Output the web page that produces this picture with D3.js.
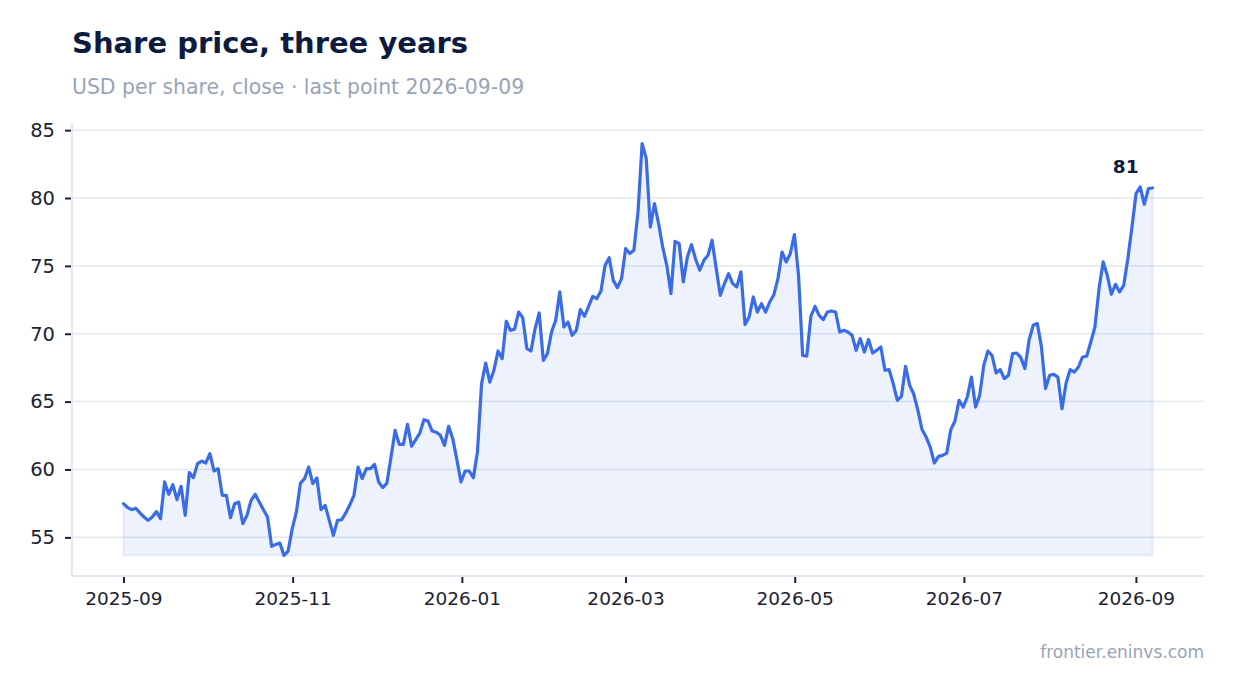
<!DOCTYPE html>
<html>
<head>
<meta charset="utf-8">
<script src="https://cdn.jsdelivr.net/npm/d3@7"></script>
<style>
  html, body { margin: 0; padding: 0; background: #ffffff; }
  svg { display: block; font-family: "DejaVu Sans", sans-serif; }
</style>
</head>
<body>
<svg id="chart" width="1234" height="693"></svg>
<script>
// ---- data ----
const title = "Share price, three years";
const subtitle = "USD per share, close \u00b7 last point 2026-09-09";
const footer = "frontier.eninvs.com";
const startDate = "2025-09-01";
const endDate = "2026-09-07";
const prices = [
  57.48, 57.2, 57.04, 57.14, 56.8, 56.5, 56.25, 56.5, 56.9, 56.38,
  59.08, 58.17, 58.88, 57.78, 58.76, 56.62, 59.77, 59.40, 60.43, 60.62,
  60.48, 61.17, 59.89, 60.06, 58.10, 58.10, 56.45, 57.48, 57.60, 56.01,
  56.62, 57.73, 58.17, 57.60, 57.04, 56.50, 54.34, 54.48, 54.58, 53.67,
  53.99, 55.64, 56.86, 59.00, 59.33, 60.18, 58.96, 59.37, 57.04, 57.36,
  56.25, 55.15, 56.25, 56.30, 56.8, 57.4, 58.1, 60.18, 59.33, 60.06,
  60.06, 60.38, 59.08, 58.66, 59.00, 60.92, 62.88, 61.85, 61.85, 63.33,
  61.71, 62.20, 62.69, 63.67, 63.57, 62.83, 62.74, 62.52, 61.78, 63.18,
  62.27, 60.73, 59.08, 59.89, 59.89, 59.40, 61.29, 66.33, 67.84, 66.44,
  67.31, 68.73, 68.17, 70.92, 70.25, 70.33, 71.60, 71.19, 68.91, 68.73,
  70.38, 71.53, 68.04, 68.54, 70.13, 70.99, 73.08, 70.50, 70.87, 69.89,
  70.25, 71.78, 71.29, 72.02, 72.76, 72.59, 73.15, 75.04, 75.6, 73.93,
  73.4, 74.06, 76.28, 75.91, 76.15, 78.97, 84.01, 82.91, 77.87, 79.59,
  78.12, 76.39, 75.04, 72.96, 76.81, 76.64, 73.82, 75.66, 76.57, 75.49,
  74.68, 75.41, 75.78, 76.89, 74.80, 72.83, 73.70, 74.43, 73.70, 73.45,
  74.55, 70.68, 71.24, 72.71, 71.60, 72.22, 71.60, 72.34, 72.88, 74.06,
  76.02, 75.29, 75.91, 77.31, 74.31, 68.41, 68.36, 71.29, 72.02, 71.36,
  71.04, 71.60, 71.68, 71.60, 70.13, 70.25, 70.13, 69.89, 68.78, 69.64,
  68.66, 69.57, 68.58, 68.78, 69.02, 67.31, 67.36, 66.33, 65.10, 65.39,
  67.60, 66.20, 65.54, 64.36, 62.94, 62.39, 61.65, 60.48, 60.97, 61.04,
  61.21, 62.94, 63.57, 65.10, 64.60, 65.34, 66.81, 64.60, 65.46, 67.67,
  68.73, 68.41, 67.11, 67.36, 66.69, 66.94, 68.54, 68.58, 68.24, 67.43,
  69.52, 70.62, 70.75, 69.07, 65.96, 66.94, 67.01, 66.81, 64.48, 66.37,
  67.36, 67.18, 67.55, 68.29, 68.34, 69.39, 70.50, 73.33, 75.29, 74.31,
  72.91, 73.64, 73.08, 73.57, 75.54, 77.87, 80.33, 80.82, 79.54, 80.70,
  80.74
];
const yTicks = [55, 60, 65, 70, 75, 80, 85];
const xTickLabels = ["2025-09", "2025-11", "2026-01", "2026-03", "2026-05", "2026-07", "2026-09"];

// ---- build ----
const parse = d3.timeParse("%Y-%m-%d");
const parseMonth = d3.timeParse("%Y-%m");
const t0 = parse(startDate), t1 = parse(endDate);
const idx = d3.scaleLinear().domain([0, prices.length - 1]).range([t0.getTime(), t1.getTime()]);
const data = prices.map((v, i) => ({ date: new Date(idx(i)), value: v }));

const svg = d3.select("#chart");
const W = 1234, H = 693;
const m = { left: 72, right: 30, top: 123, bottom: 117 };
const pw = W - m.left - m.right, ph = H - m.top - m.bottom;

const span = t1 - t0;
const x = d3.scaleTime()
  .domain([new Date(+t0 - span * 0.05), new Date(+t1 + span * 0.05)])
  .range([m.left, m.left + pw]);
const vMin = d3.min(prices), vMax = d3.max(prices);
const vPad = (vMax - vMin) * 0.05;
const y = d3.scaleLinear()
  .domain([vMin - vPad, vMax + vPad])
  .range([m.top + ph, m.top]);

const navy = "#0d1b3e";
const muted = "#98a4b8";
const ink = "#1b2233";
const lineColor = "#3a6ce6";
const gridColor = "#e3e7ef";

// title
svg.append("text").attr("x", 72).attr("y", 53)
  .attr("font-size", 29).attr("font-weight", "bold").attr("fill", navy).text(title);
svg.append("text").attr("x", 72).attr("y", 94)
  .attr("font-size", 20.4).attr("fill", muted).text(subtitle);

// grid
svg.append("g").selectAll("line").data(yTicks).join("line")
  .attr("x1", m.left).attr("x2", m.left + pw)
  .attr("y1", d => y(d)).attr("y2", d => y(d))
  .attr("stroke", gridColor).attr("stroke-width", 1.5);

// axis lines
svg.append("line").attr("x1", m.left).attr("x2", m.left)
  .attr("y1", m.top).attr("y2", m.top + ph)
  .attr("stroke", gridColor).attr("stroke-width", 2);
svg.append("line").attr("x1", m.left).attr("x2", m.left + pw)
  .attr("y1", m.top + ph).attr("y2", m.top + ph)
  .attr("stroke", gridColor).attr("stroke-width", 2);

// y axis
const gy = svg.append("g").attr("transform", `translate(${m.left - 1},0)`)
  .call(d3.axisLeft(y).tickValues(yTicks).tickSize(6).tickPadding(10).tickSizeOuter(0));
gy.select(".domain").remove();
gy.selectAll(".tick line").attr("stroke", ink).attr("stroke-width", 2);
gy.selectAll(".tick text").attr("font-size", 19.5).attr("fill", ink)
  .attr("font-family", "DejaVu Sans, sans-serif");

// x axis
const gx = svg.append("g").attr("transform", `translate(0,${m.top + ph + 1})`)
  .call(d3.axisBottom(x).tickValues(xTickLabels.map(parseMonth))
    .tickFormat(d3.timeFormat("%Y-%m")).tickSize(6).tickPadding(9).tickSizeOuter(0));
gx.select(".domain").remove();
gx.selectAll(".tick line").attr("stroke", ink).attr("stroke-width", 2);
gx.selectAll(".tick text").attr("font-size", 18.5).attr("fill", ink)
  .attr("font-family", "DejaVu Sans, sans-serif");

// area
const area = d3.area().x(d => x(d.date)).y0(y(vMin)).y1(d => y(d.value));
svg.append("path").datum(data).attr("d", area)
  .attr("fill", lineColor).attr("fill-opacity", 0.09)
  .attr("stroke", lineColor).attr("stroke-opacity", 0.1).attr("stroke-width", 2);

// line
const line = d3.line().x(d => x(d.date)).y(d => y(d.value));
svg.append("path").datum(data).attr("d", line)
  .attr("fill", "none").attr("stroke", lineColor).attr("stroke-width", 3.2)
  .attr("stroke-linejoin", "round").attr("stroke-linecap", "round");

// last value label
const last = data[data.length - 1];
svg.append("text").attr("x", x(last.date) - 14).attr("y", y(last.value) - 15)
  .attr("text-anchor", "end").attr("font-size", 18.5).attr("font-weight", "bold")
  .attr("fill", navy).text(d3.format(".0f")(last.value));

// footer
svg.append("text").attr("x", 1204).attr("y", 658).attr("text-anchor", "end")
  .attr("font-size", 17).attr("fill", muted).text(footer);
</script>
</body>
</html>
